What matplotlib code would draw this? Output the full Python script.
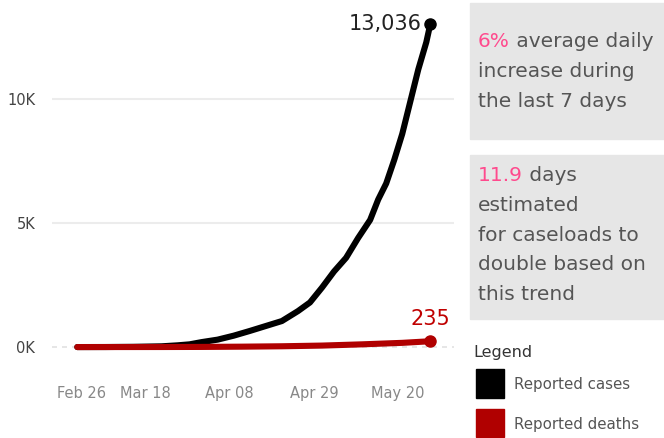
import numpy as np
import matplotlib
matplotlib.use('Agg')
import matplotlib.pyplot as plt
import matplotlib.dates as mdates
import matplotlib.transforms as mtransforms
from matplotlib.patches import Rectangle

# valors llegits del grafic
dates_cases = ['2020-03-01', '2020-03-08', '2020-03-15', '2020-03-22', '2020-03-26',
               '2020-03-29', '2020-04-01', '2020-04-05', '2020-04-09', '2020-04-13',
               '2020-04-17', '2020-04-21', '2020-04-25', '2020-04-28', '2020-05-01',
               '2020-05-04', '2020-05-07', '2020-05-10', '2020-05-13', '2020-05-15',
               '2020-05-17', '2020-05-19', '2020-05-21', '2020-05-23', '2020-05-25',
               '2020-05-27', '2020-05-28']
cases = [0, 2, 10, 30, 70, 110, 200, 300, 460, 650, 850, 1050, 1450, 1800, 2400,
         3050, 3600, 4400, 5130, 5950, 6600, 7550, 8600, 9900, 11200, 12300, 13036]

dates_deaths = ['2020-03-01', '2020-03-22', '2020-04-01', '2020-04-11', '2020-04-21',
                '2020-05-01', '2020-05-11', '2020-05-21', '2020-05-28']
deaths = [0, 2, 6, 16, 32, 60, 110, 170, 235]

tick_dates = ['2020-02-26', '2020-03-18', '2020-04-08', '2020-04-29', '2020-05-20']
tick_labels = ['Feb 26', 'Mar 18', 'Apr 08', 'Apr 29', 'May 20']
y_ticks = [0, 5000, 10000]
y_labels = ['0K', '5K', '10K']

box1_lines = ['increase during', 'the last 7 days']
box2_lines = ['estimated', 'for caseloads to', 'double based on', 'this trend']

BLACK = '#000000'
RED = '#b00000'
PINK = '#ff4a8d'
GREY_TXT = '#555555'

W, H = 664, 438
fig = plt.figure(figsize=(W / 100, H / 100), dpi=100)

def fx(px):
    return px / W

def fy(py):
    return 1 - py / H

ax = fig.add_axes([fx(52), fy(375), fx(454 - 52), (375 - 5) / H])

dc = mdates.date2num(np.array(dates_cases, dtype='datetime64[D]'))
dd = mdates.date2num(np.array(dates_deaths, dtype='datetime64[D]'))
mar18 = mdates.date2num(np.datetime64('2020-03-18'))

ax.plot(dc, cases, color=BLACK, lw=4.4, solid_capstyle='round', solid_joinstyle='round', zorder=3)
ax.plot(dd, deaths, color=RED, lw=4.4, solid_capstyle='round', solid_joinstyle='round', zorder=4)
ax.plot(dc[-1], cases[-1], 'o', color=BLACK, ms=8, zorder=5)
ax.plot(dd[-1], deaths[-1], 'o', color=RED, ms=8, zorder=5)

ax.annotate(f'{cases[-1]:,}', (dc[-1], cases[-1]), xytext=(-6, 0), textcoords='offset points',
            ha='right', va='center', fontsize=15, color='#222222')
ax.annotate(f'{deaths[-1]:,}', (dd[-1], deaths[-1]), xytext=(0, 12), textcoords='offset points',
            ha='center', va='baseline', fontsize=15, color='#c00000')

ax.set_xlim(mar18 - 23.3, mar18 + 76.9)
ax.set_ylim(-1127, 13800)

for v in [5000, 10000]:
    ax.axhline(v, color='#ececec', lw=1.5, zorder=1)
ax.axhline(0, color='#e2e2e2', lw=1.2, ls=(0, (3, 3)), zorder=1)

ax.set_xticks(mdates.date2num(np.array(tick_dates, dtype='datetime64[D]')))
ax.set_xticklabels(tick_labels)
ax.set_yticks(y_ticks)
ax.set_yticklabels(y_labels)
ax.tick_params(axis='x', length=0, pad=8, labelsize=10.5, labelcolor='#888888')
ax.tick_params(axis='y', length=0, pad=12, labelsize=10.5, labelcolor='#444444')
first = ax.get_xticklabels()[0]
first.set_horizontalalignment('left')
first.set_transform(first.get_transform() + mtransforms.ScaledTranslation(-4 / 100, 0, fig.dpi_scale_trans))
for s in ax.spines.values():
    s.set_visible(False)

# caixes de text
fig.patches.append(Rectangle((fx(470), fy(139)), fx(664 - 470), (139 - 3) / H,
                             transform=fig.transFigure, color='#e6e6e6', zorder=0))
fig.patches.append(Rectangle((fx(470), fy(319)), fx(664 - 470), (319 - 155) / H,
                             transform=fig.transFigure, color='#e6e6e6', zorder=0))

fig.canvas.draw()
renderer = fig.canvas.get_renderer()

def two_colour(x, y, first, rest, size=14.5):
    t = fig.text(fx(x), fy(y), first, color=PINK, fontsize=size, va='baseline')
    bb = t.get_window_extent(renderer)
    fig.text(bb.x1 / W, fy(y), ' ' + rest, color=GREY_TXT, fontsize=size, va='baseline')

two_colour(478, 46.7, '6%', 'average daily')
for i, line in enumerate(box1_lines):
    fig.text(fx(478), fy(76.7 + 30 * i), line, color=GREY_TXT, fontsize=14.5, va='baseline')

two_colour(478, 181, '11.9', 'days')
for i, line in enumerate(box2_lines):
    fig.text(fx(478), fy(211 + 29.7 * i), line, color=GREY_TXT, fontsize=14.5, va='baseline')

# llegenda
fig.text(fx(473), fy(353), 'Legend', color='#333333', fontsize=11.5, va='center')
fig.patches.append(Rectangle((fx(476), fy(398)), fx(28), 29 / H, transform=fig.transFigure,
                             color=BLACK))
fig.patches.append(Rectangle((fx(476), fy(437)), fx(28), 28 / H, transform=fig.transFigure,
                             color=RED))
fig.text(fx(514), fy(384), 'Reported cases', color=GREY_TXT, fontsize=10.8, va='center')
fig.text(fx(514), fy(424), 'Reported deaths', color=GREY_TXT, fontsize=10.8, va='center')

fig.savefig('out.png', dpi=100)
